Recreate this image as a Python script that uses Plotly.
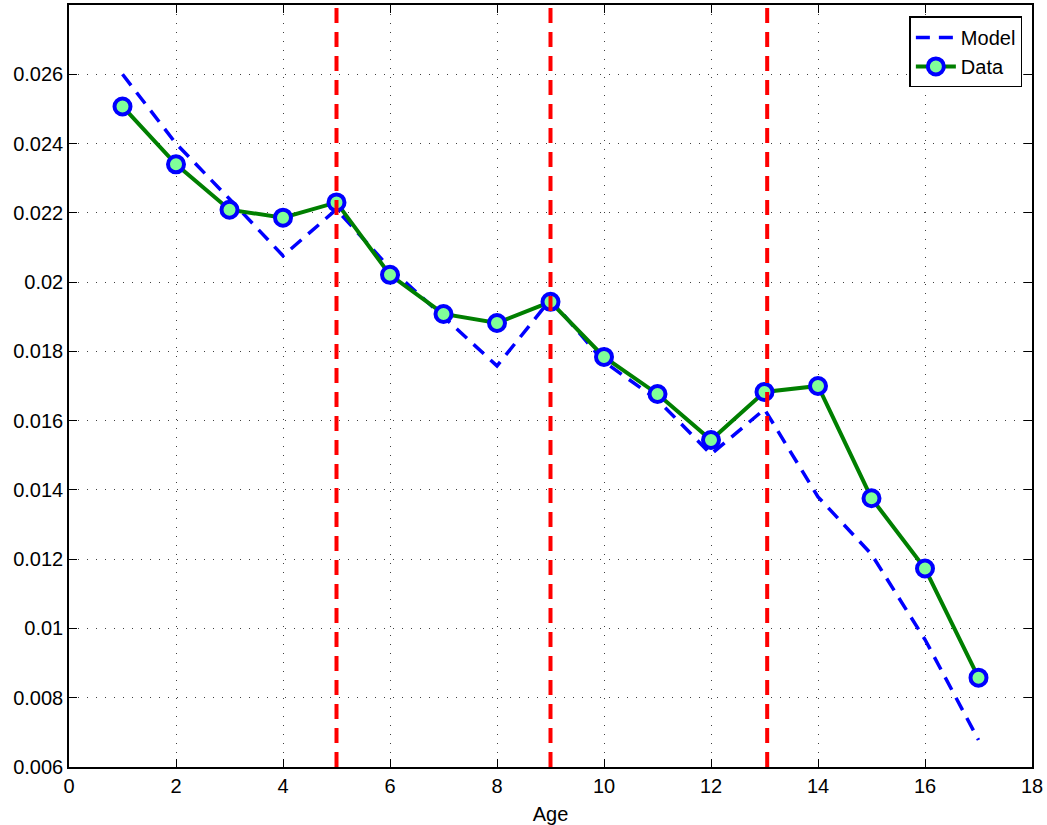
import plotly.graph_objects as go

ages = list(range(1, 18))
data_vals = [0.02507, 0.02340, 0.02209, 0.02186, 0.02230, 0.02021, 0.01908, 0.01882,
             0.01943, 0.01784, 0.01677, 0.01544, 0.01683, 0.01700, 0.01376, 0.01173, 0.00858]
model_vals = [0.02600, 0.02400, 0.02240, 0.02076, 0.02210, 0.02040, 0.01900, 0.01758,
              0.01950, 0.01770, 0.01660, 0.01503, 0.01633, 0.01380, 0.01214, 0.00968, 0.00678]
break_ages = [5.0, 9.0, 13.05]
x_ticks = list(range(0, 19, 2))
y_ticks = [0.006, 0.008, 0.01, 0.012, 0.014, 0.016, 0.018, 0.02, 0.022, 0.024, 0.026]
y_tick_labels = ["0.006", "0.008", "0.01", "0.012", "0.014", "0.016", "0.018", "0.02", "0.022", "0.024", "0.026"]
y_range = [0.006, 0.028]

FONT = "Liberation Sans"

fig = go.Figure()
fig.add_trace(go.Scatter(x=ages, y=model_vals, mode="lines", name="Model",
                         line=dict(color="#0000FF", width=3.5, dash="14px,9px")))
fig.add_trace(go.Scatter(x=ages, y=data_vals, mode="lines+markers", name="Data",
                         line=dict(color="#007F00", width=4),
                         marker=dict(symbol="circle", size=16, color="#80FF99",
                                     line=dict(color="#0000FF", width=4))))
for b in break_ages:
    fig.add_trace(go.Scatter(x=[b, b], y=y_range, mode="lines", showlegend=False,
                             line=dict(color="#FF0000", width=4, dash="15px,9px"),
                             hoverinfo="skip"))

axis_common = dict(showline=True, linecolor="black", linewidth=1.5, mirror="ticks",
                   ticks="inside", ticklen=8, tickcolor="black", automargin=False,
                   showgrid=True, gridcolor="rgba(0,0,0,0.75)", griddash="1px,8px", gridwidth=1,
                   zeroline=False, tickfont=dict(family=FONT, size=20, color="black"))

fig.update_xaxes(range=[0, 18], tickvals=x_ticks, ticktext=[str(t) for t in x_ticks],
                 title=dict(text="Age", font=dict(family=FONT, size=20, color="black")),
                 **axis_common)
fig.update_yaxes(range=y_range, tickvals=y_ticks, ticktext=y_tick_labels, **axis_common)

fig.update_layout(width=1047, height=825, plot_bgcolor="white", paper_bgcolor="white",
                  margin=dict(l=69, r=15, t=5, b=58),
                  legend=dict(x=0.99, y=0.985, xanchor="right", yanchor="top",
                              bordercolor="black", borderwidth=1.5, bgcolor="white",
                              font=dict(family=FONT, size=20, color="black"),
                              tracegroupgap=0, itemwidth=40))

fig.write_html("out.html", config={"displayModeBar": False},
               post_script="document.body.style.margin='0';")
